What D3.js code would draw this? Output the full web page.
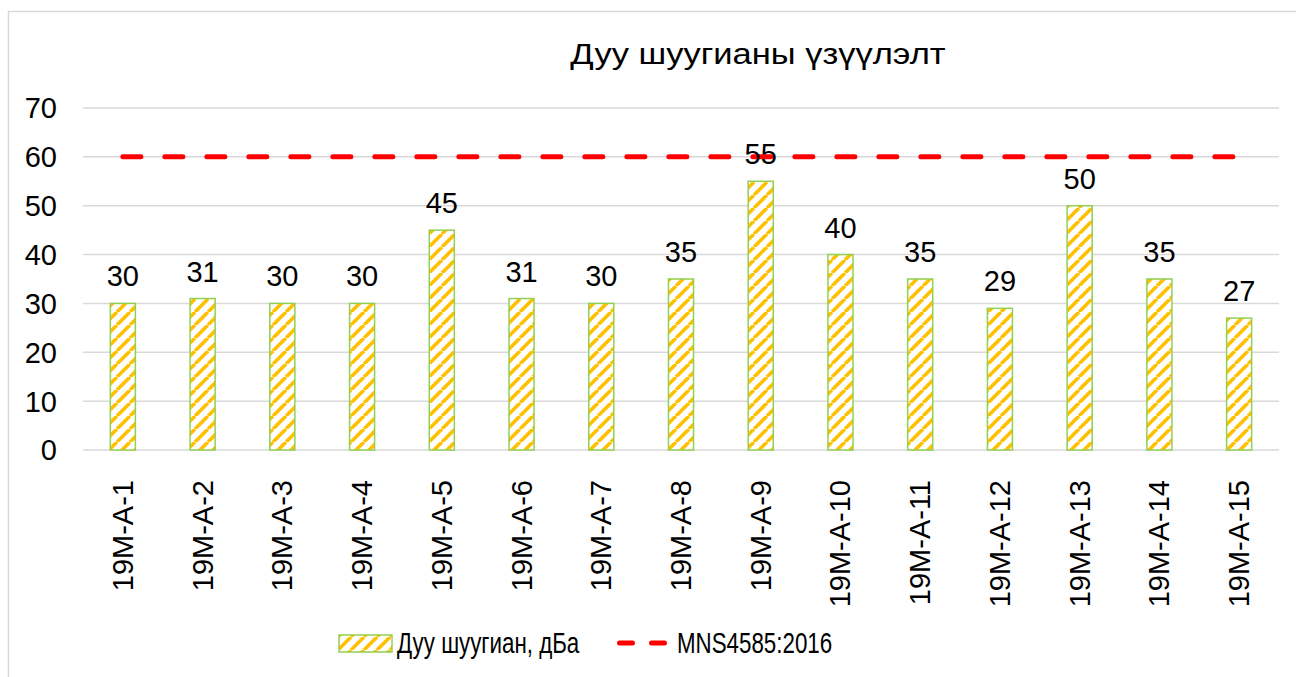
<!DOCTYPE html>
<html>
<head>
<meta charset="utf-8">
<script src="https://cdn.jsdelivr.net/npm/d3@7"></script>
<style>
  body { margin: 0; background: #fff; }
  text { font-family: 'Liberation Sans', Arial, sans-serif; fill: #000; }
</style>
</head>
<body>
<div id="chart"></div>
<script>
const categories = ['19M-A-1', '19M-A-2', '19M-A-3', '19M-A-4', '19M-A-5', '19M-A-6', '19M-A-7', '19M-A-8',
  '19M-A-9', '19M-A-10', '19M-A-11', '19M-A-12', '19M-A-13', '19M-A-14', '19M-A-15'];
const noise = [30, 31, 30, 30, 45, 31, 30, 35, 55, 40, 35, 29, 50, 35, 27];
const limit = 60;
const yTicks = [0, 10, 20, 30, 40, 50, 60, 70];
const seriesNames = ['Дуу шуугиан, дБа', 'MNS4585:2016'];
const title = 'Дуу шуугианы үзүүлэлт';

const width = 1296;
const height = 677;
const PLOT = { left: 83, right: 1279, top: 108, bottom: 450 };
const FONT = 29;
const ORANGE = '#FFC000';
const GREEN = '#92D050';
const GRID = '#d9d9d9';

const svg = d3.select('#chart')
  .append('svg')
  .attr('width', width)
  .attr('height', height);

// diagonal stripe fill
const P = 13;
const pat = svg.append('defs')
  .append('pattern')
  .attr('id', 'stripes')
  .attr('patternUnits', 'userSpaceOnUse')
  .attr('width', P)
  .attr('height', P);
pat.append('rect').attr('width', P).attr('height', P).attr('fill', '#fff');
pat.append('path')
  .attr('d', `M${-P},${P}L0,0M0,${P}L${P},0M${P},${P}L${2 * P},0`)
  .attr('stroke', ORANGE)
  .attr('stroke-width', 3.6);

// outer border
svg.append('rect')
  .attr('x', 8.5).attr('y', 11.5)
  .attr('width', 1300).attr('height', 700)
  .attr('fill', 'none')
  .attr('stroke', GRID)
  .attr('stroke-width', 1.5);

const x = d3.scaleBand()
  .domain(categories)
  .range([PLOT.left, PLOT.right]);
const y = d3.scaleLinear()
  .domain([0, 70])
  .range([PLOT.bottom, PLOT.top]);
const barW = x.bandwidth() * 0.314;
const cx = (c) => x(c) + x.bandwidth() / 2;

// gridlines
svg.append('g')
  .selectAll('line')
  .data(yTicks)
  .join('line')
  .attr('x1', PLOT.left)
  .attr('x2', PLOT.right)
  .attr('y1', (d) => y(d))
  .attr('y2', (d) => y(d))
  .attr('stroke', GRID)
  .attr('stroke-width', 1.5);

// y axis labels
svg.append('g')
  .selectAll('text')
  .data(yTicks)
  .join('text')
  .attr('x', PLOT.left - 26)
  .attr('y', (d) => y(d))
  .attr('dy', '0.36em')
  .attr('text-anchor', 'end')
  .style('font-size', FONT + 'px')
  .text((d) => d);

// bars
svg.append('g')
  .selectAll('rect')
  .data(noise)
  .join('rect')
  .attr('x', (d, i) => cx(categories[i]) - barW / 2)
  .attr('y', (d) => y(d))
  .attr('width', barW)
  .attr('height', (d) => y(0) - y(d))
  .attr('fill', 'url(#stripes)')
  .attr('stroke', GREEN)
  .attr('stroke-width', 1.5);

// limit line
svg.append('line')
  .attr('x1', cx(categories[0]))
  .attr('x2', cx(categories[categories.length - 1]))
  .attr('y1', y(limit))
  .attr('y2', y(limit))
  .attr('stroke', '#ff0000')
  .attr('stroke-width', 5)
  .attr('stroke-linecap', 'round')
  .attr('stroke-dasharray', '18 24');

// value labels
svg.append('g')
  .selectAll('text')
  .data(noise)
  .join('text')
  .attr('x', (d, i) => cx(categories[i]))
  .attr('y', (d) => y(d) - 17)
  .attr('text-anchor', 'middle')
  .style('font-size', FONT + 'px')
  .text((d) => d);

// category labels
svg.append('g')
  .selectAll('text')
  .data(categories)
  .join('text')
  .attr('transform', (d) => 'translate(' + (cx(d) + 10) + ',480) rotate(-90)')
  .attr('text-anchor', 'end')
  .style('font-size', FONT + 'px')
  .text((d) => d);

// title
svg.append('text')
  .attr('transform', 'translate(758,64) scale(1.19,1)')
  .attr('text-anchor', 'middle')
  .style('font-size', FONT + 'px')
  .text(title);

// legend
const lg = svg.append('g');
lg.append('rect')
  .attr('x', 339).attr('y', 635)
  .attr('width', 53).attr('height', 17)
  .attr('fill', 'url(#stripes)')
  .attr('stroke', GREEN)
  .attr('stroke-width', 1.5);
lg.append('text')
  .attr('transform', 'translate(397,653) scale(0.77,1)')
  .style('font-size', FONT + 'px')
  .text(seriesNames[0]);
lg.append('line')
  .attr('x1', 619.5).attr('x2', 664.5)
  .attr('y1', 643).attr('y2', 643)
  .attr('stroke', '#ff0000')
  .attr('stroke-width', 5)
  .attr('stroke-linecap', 'round')
  .attr('stroke-dasharray', '13 19');
lg.append('text')
  .attr('transform', 'translate(677,653) scale(0.77,1)')
  .style('font-size', FONT + 'px')
  .text(seriesNames[1]);
</script>
</body>
</html>
